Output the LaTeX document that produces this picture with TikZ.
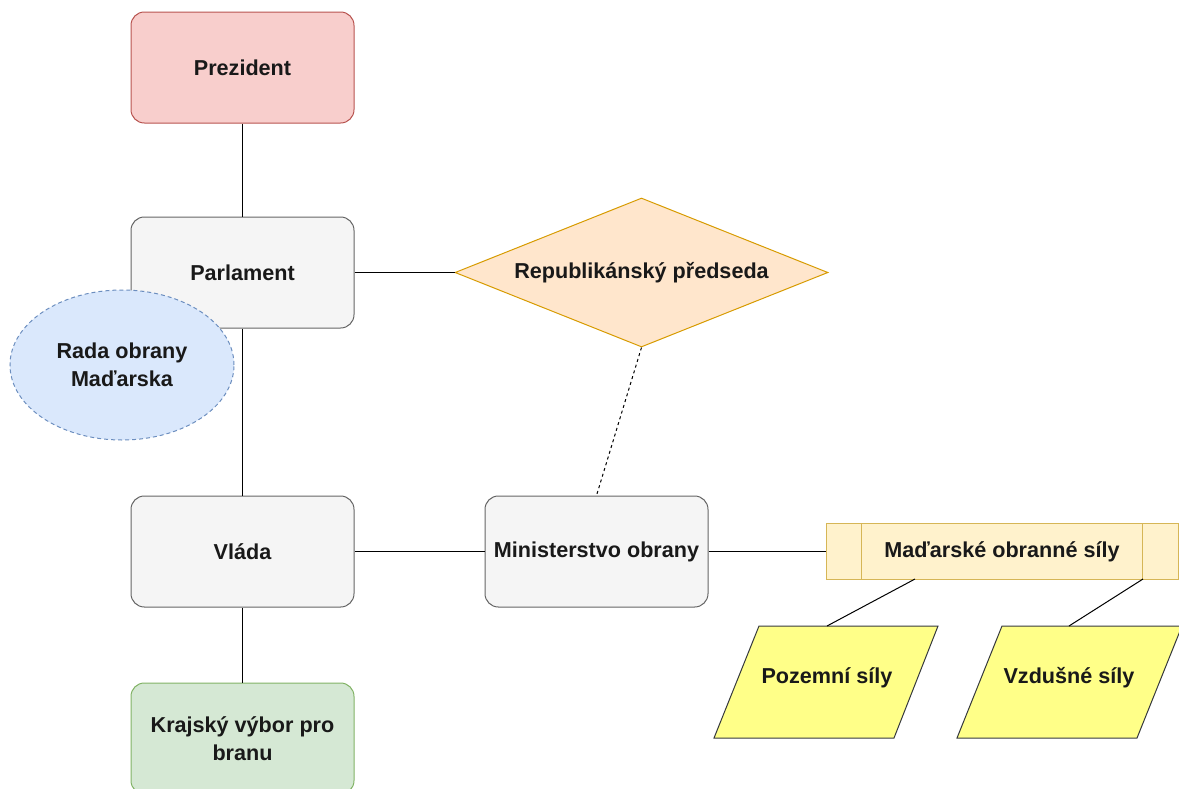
\documentclass[tikz,border=0pt]{standalone}
\usepackage{fontspec}
\setmainfont{Liberation Sans}
\usetikzlibrary{shapes.geometric}

\definecolor{redFill}{HTML}{F8CECC}
\definecolor{redLine}{HTML}{B85450}
\definecolor{grayFill}{HTML}{F5F5F5}
\definecolor{grayLine}{HTML}{666666}
\definecolor{blueFill}{HTML}{DAE8FC}
\definecolor{blueLine}{HTML}{6C8EBF}
\definecolor{orangeFill}{HTML}{FFE6CC}
\definecolor{orangeLine}{HTML}{D79B00}
\definecolor{sandFill}{HTML}{FFF2CC}
\definecolor{sandLine}{HTML}{D6B656}
\definecolor{greenFill}{HTML}{D5E8D4}
\definecolor{greenLine}{HTML}{82B366}
\definecolor{lemonFill}{HTML}{FFFF88}
\definecolor{lemonLine}{HTML}{36393D}

\tikzset{
  label font/.style={font=\bfseries\fontsize{16.2}{21}\selectfont, text=black!90},
  orgbox/.style={rectangle, rounded corners=10pt, minimum width=167.25pt,
    minimum height=83.25pt, inner sep=0pt, line width=0.75pt, align=center, label font},
  grey box/.style={orgbox, draw=grayLine, fill=grayFill},
  link/.style={draw=black, line width=0.75pt},
  dotted link/.style={link, dash pattern=on 2.25pt off 2.25pt},
  para/.style={draw=lemonLine, fill=lemonFill, line width=0.75pt},
}

\begin{document}
\begin{tikzpicture}[x=0.75pt, y=-0.75pt]
\useasboundingbox (0,0) rectangle (1179,789);
\clip (0,0) rectangle (1179,789);

% left column
\node[orgbox, draw=redLine, fill=redFill] (prez) at (242.5,67.5) {Prezident};
\node[grey box] (parl) at (242.5,272.5) {Parlament};
\node[ellipse, draw=blueLine, fill=blueFill, line width=0.75pt,
      dash pattern=on 3pt off 2.25pt, minimum width=168pt, minimum height=112.5pt,
      inner sep=0pt, align=center, label font] (rada) at (122,365) {Rada obrany\\Maďarska};
\node[grey box] (vlada) at (242.5,551.5) {Vláda};
\node[orgbox, draw=greenLine, fill=greenFill, minimum height=83.25pt] (kraj) at (242.5,738.5)
  {Krajský výbor pro\\branu};

% middle
\node[diamond, aspect=2.5, draw=orangeLine, fill=orangeFill, line width=0.75pt, inner sep=0pt,
      minimum width=279.75pt, minimum height=111.75pt, label font] (pred) at (641.5,272.5) {Republikánský předseda};
\node[grey box] (mo) at (596.5,551.5) {Ministerstvo obrany};

% defence forces (process box with side bars)
\node[rectangle, draw=sandLine, fill=sandFill, line width=0.75pt, inner sep=0pt,
      minimum width=264pt, minimum height=42pt, label font] (sily) at (1002,551.5) {Maďarské obranné síly};
\draw[draw=sandLine, line width=0.75pt]
  ([xshift=27pt]sily.north west) -- ([xshift=27pt]sily.south west)
  ([xshift=-27pt]sily.north east) -- ([xshift=-27pt]sily.south east);

% branches (parallelograms)
\draw[para] (759,626) -- (938,626) -- (894,738) -- (714,738) -- cycle;
\draw[para] (1002,626) -- (1182,626) -- (1137,738) -- (957,738) -- cycle;
\node[label font] (zem) at (827,678) {Pozemní síly};
\node[label font] (vzd) at (1069,678) {Vzdušné síly};
\coordinate (zemTop) at (827,626);
\coordinate (vzdTop) at (1069,626);
\coordinate (silyA) at (915,579);
\coordinate (silyB) at (1143,579);

% connectors
\draw[link] (prez.south) -- (parl.north);
\draw[link] (parl.south) -- (vlada.north);
\draw[link] (vlada.south) -- (kraj.north);
\draw[link] (parl.east) -- (pred.west);
\draw[link] (vlada.east) -- (mo.west);
\draw[link] (mo.east) -- (sily.west);
\draw[dotted link] (pred.south) -- (mo.north);
\draw[link] (silyA) -- (zemTop);
\draw[link] (silyB) -- (vzdTop);
\end{tikzpicture}
\end{document}
